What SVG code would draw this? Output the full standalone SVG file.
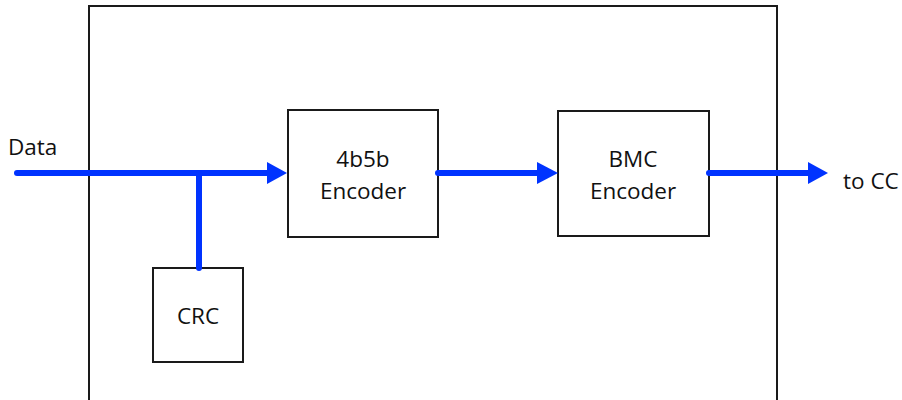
<svg xmlns="http://www.w3.org/2000/svg" width="902" height="400" viewBox="0 0 902 400">
<style>
.box{fill:#fff;stroke:#1a1a1a;stroke-width:2}
.lbl{font-family:"Open Sans","Liberation Sans",sans-serif;font-size:22.5px;fill:#111;text-anchor:middle}
.wire{stroke:#0033ff;stroke-width:6;stroke-linecap:round;fill:none}
.head{fill:#0033ff}
</style>
<rect width="902" height="400" fill="#fff"/>
<g id="outer"><rect x="89" y="6" width="688" height="410" fill="none" stroke="#1a1a1a" stroke-width="2"/></g>
<g id="crc"><rect class="box" x="153" y="268" width="90" height="94"/><text class="lbl" x="198" y="324">CRC</text></g>
<g id="enc4b5b"><rect class="box" x="288" y="110" width="150" height="127"/><text class="lbl" x="363" y="167">4b5b</text><text class="lbl" x="363" y="199">Encoder</text></g>
<g id="bmc"><rect class="box" x="558" y="111" width="151" height="125"/><text class="lbl" x="633" y="167">BMC</text><text class="lbl" x="633" y="199">Encoder</text></g>
<g id="connectors">
<path class="wire" d="M17 173 H270"/>
<polygon class="head" points="267,162 287,173 267,184"/>
<path class="wire" d="M199 173 V268"/>
<path class="wire" d="M438 173 H540"/>
<polygon class="head" points="537,162 558,173 537,184"/>
<path class="wire" d="M709 173 H810"/>
<polygon class="head" points="808,162 828,173 808,184"/>
</g>
<text class="lbl" x="8" y="155" style="text-anchor:start">Data</text>
<text class="lbl" x="843" y="189" style="text-anchor:start">to CC</text>
</svg>
